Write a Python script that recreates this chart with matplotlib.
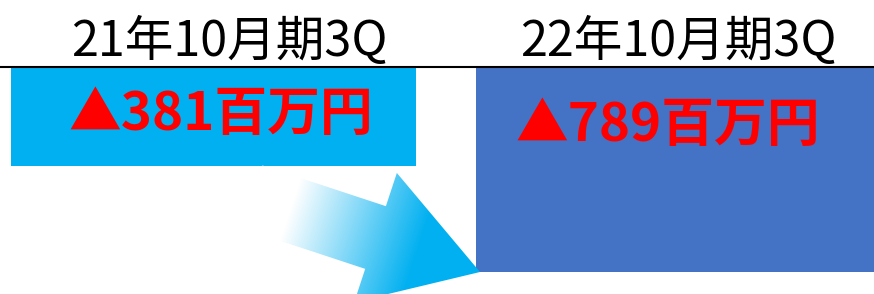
import numpy as np
import matplotlib.pyplot as plt
from matplotlib.patches import Polygon
from matplotlib.colors import LinearSegmentedColormap

plt.rcParams['font.family'] = ['Noto Sans CJK JP', 'DejaVu Sans']

# データ
periods = ['21年10月期3Q', '22年10月期3Q']
values = [-381, -789]          # 百万円 (赤字)
value_labels = ['▲381百万円', '▲789百万円']
bar_colors = ['#00B0F0', '#4472C4']

W, H = 874, 294
fig = plt.figure(figsize=(W / 100, H / 100), dpi=100)
ax = fig.add_axes([0, 0, 1, 1])

x = np.arange(len(periods))
ax.bar(x, values, width=0.871, color=bar_colors, zorder=2)
ax.axhline(0, color='black', lw=1.5, zorder=3)

ax.set_xlim(-0.459, 1.420)
s = 0.26  # px per unit
ax.set_ylim(-(H - 67) / s, 67 / s)
ax.axis('off')

title_dx = [16, 0]
label_dx = [7, -11]
label_dy = [-48, -59]
for i in range(len(periods)):
    ax.annotate(periods[i], xy=(x[i], 0), xytext=(title_dx[i], 11),
                textcoords='offset pixels', ha='center', va='baseline',
                fontsize=35, color='black')
    ax.annotate(value_labels[i], xy=(x[i], 0), xytext=(label_dx[i], label_dy[i]),
                textcoords='offset pixels', ha='center', va='center',
                fontsize=38, fontweight='bold', color='#FF0000', zorder=4)

# グラデーション矢印
ax2 = fig.add_axes([0, 0, 1, 1])
ax2.set_xlim(0, W)
ax2.set_ylim(H, 0)
ax2.set_facecolor('none')
ax2.axis('off')

tip = np.array([480.0, 272.0])
d = np.array([1.0, 0.33])
d = d / np.linalg.norm(d)
n = np.array([-d[1], d[0]])
shape = [(-240, -33), (-110, -33), (-110, -68), (0, 0),
         (-110, 68), (-110, 33), (-240, 33)]
verts = [tip + a * d + p * n for a, p in shape]
arrow = Polygon(verts, closed=True, transform=ax2.transData,
                facecolor='none', edgecolor='none')
ax2.add_patch(arrow)

gx, gy = np.meshgrid(np.arange(W) + 0.5, np.arange(H) + 0.5)
along = (gx - tip[0]) * d[0] + (gy - tip[1]) * d[1]
grad = np.clip((along + 200) / 135.0, 0, 1)
cmap = LinearSegmentedColormap.from_list('wc', ['#FFFFFF', '#00B0F0'])
im = ax2.imshow(grad, extent=(0, W, H, 0), origin='upper', cmap=cmap,
                aspect='auto', vmin=0, vmax=1)
im.set_clip_path(arrow)

fig.savefig('out.png', dpi=100)
